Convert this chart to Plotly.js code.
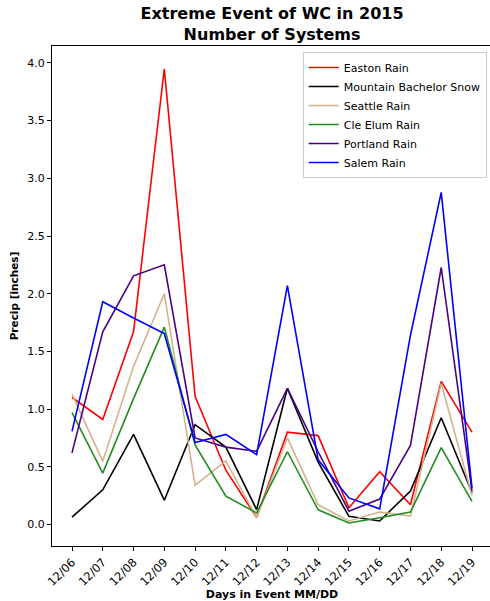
<!DOCTYPE html>
<html>
<head>
<meta charset="utf-8">
<script src="https://cdn.plot.ly/plotly-3.0.1.min.js"></script>
<style>
html,body{margin:0;padding:0;overflow:hidden;background:#fff;}
#chart{width:492px;height:601px;}
</style>
</head>
<body>
<div id="chart"></div>
<script>
const days = ["12/06","12/07","12/08","12/09","12/10","12/11","12/12","12/13","12/14","12/15","12/16","12/17","12/18","12/19"];
const eastonRain = [1.10,0.91,1.67,3.95,1.11,0.47,0.06,0.80,0.77,0.145,0.457,0.17,1.24,0.80];
const mtBachelorSnow = [0.063,0.30,0.78,0.21,0.865,0.67,0.128,1.18,0.54,0.07,0.03,0.29,0.925,0.275];
const seattleRain = [1.13,0.547,1.37,2.00,0.34,0.55,0.058,0.75,0.17,0.03,0.107,0.072,1.22,0.25];
const cleElumRain = [0.97,0.445,1.09,1.71,0.69,0.245,0.10,0.63,0.127,0.012,0.058,0.107,0.666,0.20];
const portlandRain = [0.62,1.67,2.155,2.25,0.75,0.67,0.633,1.18,0.63,0.115,0.22,0.685,2.227,0.29];
const salemRain = [0.807,1.93,1.79,1.655,0.71,0.78,0.605,2.07,0.56,0.23,0.135,1.64,2.878,0.316];

const seriesNames = ["Easton Rain","Mountain Bachelor Snow","Seattle Rain","Cle Elum Rain","Portland Rain","Salem Rain"];
const seriesData = [eastonRain, mtBachelorSnow, seattleRain, cleElumRain, portlandRain, salemRain];
const seriesColors = ["#ff0000","#000000","#d2b48c","#228b22","#4b0082","#0000ff"];

const traces = seriesNames.map((n,i)=>({
  x: days, y: seriesData[i], name: n, type: "scatter", mode: "lines",
  line: {color: seriesColors[i], width: 1.6}
}));

const layout = {
  width: 492, height: 601,
  margin: {l: 52, r: 0, t: 46, b: 55},
  paper_bgcolor: "#fff", plot_bgcolor: "#fff",
  font: {family: "DejaVu Sans", color: "#000", size: 11},
  title: {text: "<b>Extreme Event of WC in 2015<br>Number of Systems</b>", x: 0.553, xanchor: "center", y: 0.968, yanchor: "top", font: {size: 16, family: "DejaVu Sans"}},
  xaxis: {
    type: "category", range: [-0.65, 13.65],
    showline: true, linecolor: "#000", linewidth: 1, mirror: true,
    ticks: "outside", ticklen: 4, tickcolor: "#000", tickangle: -45,
    tickfont: {size: 11.5},
    showgrid: false, zeroline: false,
    title: {text: "<b>Days in Event MM/DD</b>", font: {size: 11}, standoff: 3}
  },
  yaxis: {
    range: [-0.187, 4.147],
    tickvals: [0,0.5,1,1.5,2,2.5,3,3.5,4],
    ticktext: ["0.0","0.5","1.0","1.5","2.0","2.5","3.0","3.5","4.0"],
    showline: true, linecolor: "#000", linewidth: 1, mirror: true,
    ticks: "outside", ticklen: 4, tickcolor: "#000",
    showgrid: false, zeroline: false,
    title: {text: "<b>Precip [inches]</b>", font: {size: 10.5}, standoff: 6}
  },
  showlegend: true,
  legend: {
    x: 0.988, xanchor: "right", y: 0.988, yanchor: "top",
    bgcolor: "rgba(255,255,255,0.8)", bordercolor: "#cccccc", borderwidth: 1,
    font: {size: 11}, itemwidth: 30, tracegroupgap: 0
  }
};

Plotly.newPlot("chart", traces, layout, {displayModeBar: false, staticPlot: true});
</script>
</body>
</html>
